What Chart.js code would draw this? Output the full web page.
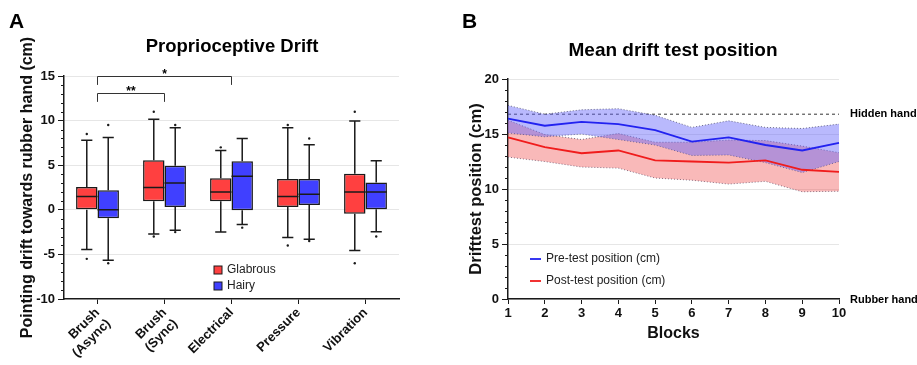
<!DOCTYPE html>
<html>
<head>
<meta charset="utf-8">
<script src="https://cdn.jsdelivr.net/npm/chart.js@4.4.1/dist/chart.umd.min.js"></script>
<style>
  html, body { margin: 0; padding: 0; background: #fff; }
  #wrap { position: relative; width: 917px; height: 365px; }
  #drift_chart { position: absolute; left: 0; top: 0; }
  #block_chart { position: absolute; left: 458px; top: 0; }
</style>
</head>
<body>
<div id="wrap">
  <canvas id="drift_chart" width="458" height="365"></canvas>
  <canvas id="block_chart" width="459" height="365"></canvas>
</div>
<script>
// ---- Panel A: proprioceptive drift (box plots) ----
var categories = [['Brush', '(Async)'], ['Brush', '(Sync)'], 'Electrical', 'Pressure', 'Vibration'];
// min, q1, median, q3, max
var glabrousStats = [
	[-4.45, 0.0, 1.5, 2.55, 7.8],
	[-2.7, 0.95, 2.5, 5.55, 10.15],
	[-2.5, 0.95, 2.0, 3.55, 6.65],
	[-3.1, 0.3, 1.5, 3.45, 9.2],
	[-4.55, -0.45, 2.0, 4.05, 9.95]
];
var hairyStats = [
	[-5.65, -0.95, 0.0, 2.2, 8.1],
	[-2.3, 0.3, 3.0, 4.95, 9.2],
	[-1.65, -0.05, 3.75, 5.45, 8.0],
	[-3.3, 0.55, 1.75, 3.45, 7.3],
	[-2.45, 0.05, 2.0, 3.05, 5.5]
];
var glabrousOutliers = [[-5.5, 8.5], [-3.0, 11.0], [7.0], [-4.0, 9.5], [-6.0, 11.0]];
var hairyOutliers = [[-6.0, 9.5], [-2.5, 9.5], [-2.0], [-3.5, 8.0], [-3.0]];
// significance brackets: from category, to category, label, height
var sigFrom = [0, 0];
var sigTo = [1, 2];
var sigLabels = ['**', '*'];
var sigLevels = [13.1, 15.0];

// ---- Panel B: mean drift test position ----
var blocks = ['1', '2', '3', '4', '5', '6', '7', '8', '9', '10'];
var preMean = [16.4, 15.75, 16.1, 15.9, 15.35, 14.3, 14.7, 14.0, 13.5, 14.2];
var preUpper = [17.6, 16.8, 17.2, 17.3, 16.7, 15.6, 16.2, 15.6, 15.5, 15.9];
var preLower = [15.1, 14.75, 15.0, 14.5, 14.0, 13.05, 13.1, 12.4, 11.5, 12.5];
var postMean = [14.7, 13.8, 13.25, 13.5, 12.6, 12.5, 12.4, 12.6, 11.75, 11.55];
var postUpper = [16.25, 14.95, 14.5, 15.05, 14.25, 14.25, 14.45, 14.4, 13.9, 13.3];
var postLower = [12.9, 12.5, 12.0, 11.9, 11.0, 10.8, 10.45, 10.7, 9.75, 9.8];
var hiddenHand = 16.8;

var red = '#FF4040',
	blue = '#4040FF',
	ink = '#1a1a1a',
	gridGrey = '#e6e6e6',
	fontFamily = "'Liberation Sans', Arial, sans-serif";

Chart.defaults.font.family = fontFamily;
Chart.defaults.color = '#111';

// short ticks at every unit on the y axis
var minorTicks = {
	id: 'minorTicks',
	afterDraw: function(chart) {
		var s = chart.scales.y, ctx = chart.ctx;
		ctx.save();
		ctx.strokeStyle = ink;
		ctx.lineWidth = 1;
		for (var v = s.min; v <= s.max; v += 1) {
			if (v % 5 === 0) continue;
			var py = Math.round(s.getPixelForValue(v)) + 0.5;
			ctx.beginPath();
			ctx.moveTo(s.right - 3, py);
			ctx.lineTo(s.right, py);
			ctx.stroke();
		}
		ctx.restore();
	}
};

// whiskers, medians and outliers on top of the floating bars
var boxWhiskers = {
	id: 'boxWhiskers',
	afterDatasetsDraw: function(chart) {
		var ctx = chart.ctx, y = chart.scales.y;
		[glabrousStats, hairyStats].forEach(function(stats, d) {
			var outliers = d === 0 ? glabrousOutliers : hairyOutliers;
			chart.getDatasetMeta(d).data.forEach(function(bar, i) {
				var s = stats[i],
					cx = bar.x,
					hw = bar.width / 2,
					cap = bar.width * 0.26;
				ctx.save();
				ctx.strokeStyle = ink;
				ctx.lineWidth = 1.5;
				ctx.beginPath();
				ctx.moveTo(cx, y.getPixelForValue(s[3]));
				ctx.lineTo(cx, y.getPixelForValue(s[4]));
				ctx.moveTo(cx, y.getPixelForValue(s[1]));
				ctx.lineTo(cx, y.getPixelForValue(s[0]));
				ctx.moveTo(cx - cap, y.getPixelForValue(s[4]));
				ctx.lineTo(cx + cap, y.getPixelForValue(s[4]));
				ctx.moveTo(cx - cap, y.getPixelForValue(s[0]));
				ctx.lineTo(cx + cap, y.getPixelForValue(s[0]));
				ctx.moveTo(cx - hw, y.getPixelForValue(s[2]));
				ctx.lineTo(cx + hw, y.getPixelForValue(s[2]));
				ctx.stroke();
				ctx.fillStyle = ink;
				outliers[i].forEach(function(v) {
					ctx.beginPath();
					ctx.arc(cx, y.getPixelForValue(v), 1.2, 0, Math.PI * 2);
					ctx.fill();
				});
				ctx.restore();
			});
		});
	}
};

var driftText = {
	id: 'driftText',
	afterDraw: function(chart) {
		var ctx = chart.ctx, x = chart.scales.x, y = chart.scales.y;
		ctx.save();
		ctx.fillStyle = '#000';
		ctx.font = 'bold 21px ' + fontFamily;
		ctx.textAlign = 'left';
		ctx.textBaseline = 'alphabetic';
		ctx.fillText('A', 9, 28);

		ctx.font = 'bold 18.5px ' + fontFamily;
		ctx.textAlign = 'center';
		ctx.textBaseline = 'middle';
		ctx.fillText('Proprioceptive Drift', 232, 47);

		// significance brackets
		ctx.strokeStyle = '#333';
		ctx.lineWidth = 1;
		for (var k = 0; k < sigLabels.length; k++) {
			var x1 = x.getPixelForValue(sigFrom[k]),
				x2 = x.getPixelForValue(sigTo[k]),
				top = Math.round(y.getPixelForValue(sigLevels[k])) + 0.5,
				foot = y.getPixelForValue(sigLevels[k] - 1);
			ctx.beginPath();
			ctx.moveTo(x1, foot);
			ctx.lineTo(x1, top);
			ctx.lineTo(x2, top);
			ctx.lineTo(x2, foot);
			ctx.stroke();
			ctx.font = 'bold 12px ' + fontFamily;
			ctx.textBaseline = 'alphabetic';
			ctx.fillText(sigLabels[k], (x1 + x2) / 2, top + 1);
		}

		// legend
		var names = ['Glabrous', 'Hairy'], fills = [red, blue];
		ctx.font = '12px ' + fontFamily;
		ctx.textAlign = 'left';
		ctx.textBaseline = 'middle';
		for (var j = 0; j < names.length; j++) {
			var ly = 270 + j * 16;
			ctx.fillStyle = fills[j];
			ctx.fillRect(214, ly - 4, 8, 8);
			ctx.strokeStyle = ink;
			ctx.strokeRect(214, ly - 4, 8, 8);
			ctx.fillStyle = '#222';
			ctx.fillText(names[j], 227, ly);
		}
		ctx.restore();
	}
};

new Chart(document.getElementById('drift_chart'), {
	type: 'bar',
	data: {
		labels: categories,
		datasets: [{
			label: 'Glabrous',
			data: glabrousStats.map(function(s) { return [s[1], s[3]]; }),
			backgroundColor: red,
			borderColor: ink,
			borderWidth: 1.5,
			borderSkipped: false,
			categoryPercentage: 0.64,
			barPercentage: 1
		}, {
			label: 'Hairy',
			data: hairyStats.map(function(s) { return [s[1], s[3]]; }),
			backgroundColor: blue,
			borderColor: ink,
			borderWidth: 1.5,
			borderSkipped: false,
			categoryPercentage: 0.64,
			barPercentage: 1
		}]
	},
	options: {
		responsive: false,
		animation: false,
		layout: { padding: { left: 0, top: 76, right: 59, bottom: 0 } },
		plugins: {
			legend: { display: false },
			tooltip: { enabled: false }
		},
		scales: {
			x: {
				grid: { drawOnChartArea: false, offset: false, tickLength: 5, tickColor: ink },
				border: { color: ink, width: 1.5 },
				ticks: {
					minRotation: 45,
					maxRotation: 45,
					padding: 1,
					color: '#111',
					font: { size: 13, weight: 'bold' }
				},
				afterFit: function(s) { s.height = 66; }
			},
			y: {
				min: -10,
				max: 15,
				ticks: { stepSize: 5, color: '#111', font: { size: 13, weight: 'bold' } },
				grid: {
					color: function(c) { return c.tick && c.tick.value === -10 ? 'rgba(0,0,0,0)' : gridGrey; },
					tickColor: ink,
					tickLength: 6
				},
				border: { color: ink, width: 1.5 },
				title: {
					display: true,
					text: 'Pointing drift towards rubber hand (cm)',
					color: '#111',
					font: { size: 16, weight: 'bold' },
					padding: { top: 18, bottom: 0 }
				},
				afterFit: function(s) { s.width = 64; }
			}
		}
	},
	plugins: [minorTicks, boxWhiskers, driftText]
});

// ---- Panel B ----
var blockText = {
	id: 'blockText',
	afterDraw: function(chart) {
		var ctx = chart.ctx, y = chart.scales.y, area = chart.chartArea;
		ctx.save();
		ctx.fillStyle = '#000';
		ctx.font = 'bold 21px ' + fontFamily;
		ctx.textAlign = 'left';
		ctx.textBaseline = 'alphabetic';
		ctx.fillText('B', 4, 28);

		ctx.font = 'bold 19px ' + fontFamily;
		ctx.textAlign = 'center';
		ctx.textBaseline = 'middle';
		ctx.fillText('Mean drift test position', 215, 51);

		ctx.font = 'bold 11px ' + fontFamily;
		ctx.textAlign = 'left';
		ctx.fillText('Hidden hand', area.right + 11, y.getPixelForValue(hiddenHand));
		ctx.fillText('Rubber hand', area.right + 11, y.getPixelForValue(0) + 1);

		// legend
		var names = ['Pre-test position (cm)', 'Post-test position (cm)'], cols = ['#2222f0', '#f01c1c'];
		ctx.font = '12px ' + fontFamily;
		for (var j = 0; j < names.length; j++) {
			var ly = 259 + j * 22;
			ctx.strokeStyle = cols[j];
			ctx.lineWidth = 1.8;
			ctx.beginPath();
			ctx.moveTo(72, ly);
			ctx.lineTo(83, ly);
			ctx.stroke();
			ctx.fillStyle = '#222';
			ctx.fillText(names[j], 88, ly);
		}
		ctx.restore();
	}
};

var bandEdge = {
	borderColor: 'rgba(70,70,100,0.75)',
	borderDash: [1, 2],
	borderWidth: 1,
	pointRadius: 0
};

new Chart(document.getElementById('block_chart'), {
	type: 'line',
	data: {
		labels: blocks,
		datasets: [
			{ label: 'Pre-test position (cm)', data: preMean, borderColor: '#2222f0', borderWidth: 1.8, pointRadius: 0, fill: false },
			{ label: 'Post-test position (cm)', data: postMean, borderColor: '#f01c1c', borderWidth: 1.8, pointRadius: 0, fill: false },
			Object.assign({ label: 'Pre upper', data: preUpper, fill: '+1', backgroundColor: 'rgba(100,100,250,0.45)' }, bandEdge),
			Object.assign({ label: 'Pre lower', data: preLower, fill: false }, bandEdge),
			Object.assign({ label: 'Post upper', data: postUpper, fill: '+1', backgroundColor: 'rgba(240,80,80,0.4)' }, bandEdge),
			Object.assign({ label: 'Post lower', data: postLower, fill: false }, bandEdge),
			{
				label: 'Hidden hand',
				data: blocks.map(function() { return hiddenHand; }),
				borderColor: '#333',
				borderDash: [3, 3],
				borderWidth: 1,
				pointRadius: 0,
				fill: false
			}
		]
	},
	options: {
		responsive: false,
		animation: false,
		layout: { padding: { left: 0, top: 79, right: 78, bottom: 0 } },
		plugins: {
			legend: { display: false },
			tooltip: { enabled: false }
		},
		scales: {
			x: {
				grid: { drawOnChartArea: false, tickLength: 5, tickColor: ink },
				border: { color: ink, width: 1.5 },
				ticks: { maxRotation: 0, padding: 2, color: '#111', font: { size: 13, weight: 'bold' } },
				title: {
					display: true,
					text: 'Blocks',
					color: '#111',
					font: { size: 16, weight: 'bold' },
					padding: { top: 0, bottom: 22 }
				},
				afterFit: function(s) { s.height = 66; }
			},
			y: {
				min: 0,
				max: 20,
				ticks: { stepSize: 5, color: '#111', font: { size: 13, weight: 'bold' } },
				grid: { color: gridGrey, tickColor: ink, tickLength: 6 },
				border: { color: ink, width: 1.5 },
				title: {
					display: true,
					text: 'Drifttest position (cm)',
					color: '#111',
					font: { size: 16.5, weight: 'bold' },
					padding: { top: 9, bottom: 0 }
				},
				afterFit: function(s) { s.width = 50; }
			}
		}
	},
	plugins: [minorTicks, blockText]
});
</script>
</body>
</html>
